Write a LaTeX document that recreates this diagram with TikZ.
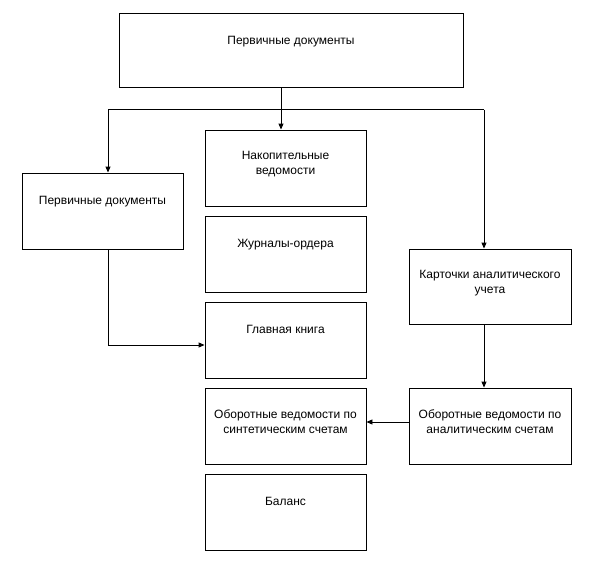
\documentclass[tikz,border=0pt]{standalone}
\usepackage{fontspec}
\setmainfont{Liberation Sans}
\usetikzlibrary{arrows.meta}
\begin{document}
\begin{tikzpicture}[x=1pt,y=-1pt,
  box/.style={draw=black,line width=0.9pt,rectangle,inner sep=0pt,minimum width=#1},
  box/.default=161pt,
  txt/.style={anchor=north,inner sep=0pt,align=center,font=\fontsize{12}{15}\selectfont},
  conn/.style={draw=black,line width=0.9pt},
  arr/.style={conn,-{Triangle[length=6pt,width=5pt]}}]
\useasboundingbox (0,0) rectangle (591,576);
% boxes
\node[box=344pt,minimum height=74pt] (b0) at (291,50) {};
\node[box,minimum height=76pt] (bL) at (102.5,211) {};
\node[box,minimum height=76pt] (bN) at (285.5,168) {};
\node[box,minimum height=76pt] (bJ) at (285.5,254) {};
\node[box,minimum height=76pt] (bG) at (285.5,340) {};
\node[box,minimum height=76pt] (bS) at (285.5,426) {};
\node[box,minimum height=76pt] (bB) at (285.5,512) {};
\node[box=162pt,minimum height=75pt] (bK) at (490,286.5) {};
\node[box=162pt,minimum height=76pt] (bA) at (490,426) {};
% texts
\node[txt] (t0) at ([yshift=-23pt]b0.north) {Первичные документы};
\node[txt] (tL) at ([yshift=-23pt]bL.north) {Первичные документы};
\node[txt] (tN) at ([yshift=-21pt]bN.north) {Накопительные\\ведомости};
\node[txt] (tJ) at ([yshift=-23pt]bJ.north) {Журналы-ордера};
\node[txt] (tG) at ([yshift=-23pt]bG.north) {Главная книга};
\node[txt] (tS) at ([yshift=-22pt]bS.north) {Оборотные ведомости по\\синтетическим счетам};
\node[txt] (tB) at ([yshift=-23pt]bB.north) {Баланс};
\node[txt] (tK) at ([yshift=-21pt]bK.north) {Карточки аналитического\\учета};
\node[txt] (tA) at ([yshift=-22pt]bA.north) {Оборотные ведомости по\\аналитическим счетам};
% junctions
\coordinate (sp) at (281,109.5);
\coordinate (hl) at (108,109.5);
\coordinate (hr) at (484,109.5);
% connectors
\draw[conn] (hl) -- (hr);
\draw[conn] (b0.south -| sp) -- (sp);
\draw[arr] (sp) -- (sp |- bN.north);
\draw[arr] (hl) -- (hl |- bL.north);
\draw[arr] (hr) -- (hr |- bK.north);
\draw[arr] (hl |- bL.south) |- ([yshift=-5pt]bG.west);
\draw[arr] (hr |- bK.south) -- (hr |- bA.north);
\draw[arr] ([yshift=4pt]bA.west) -- ([yshift=4pt]bS.east);
\end{tikzpicture}
\end{document}
